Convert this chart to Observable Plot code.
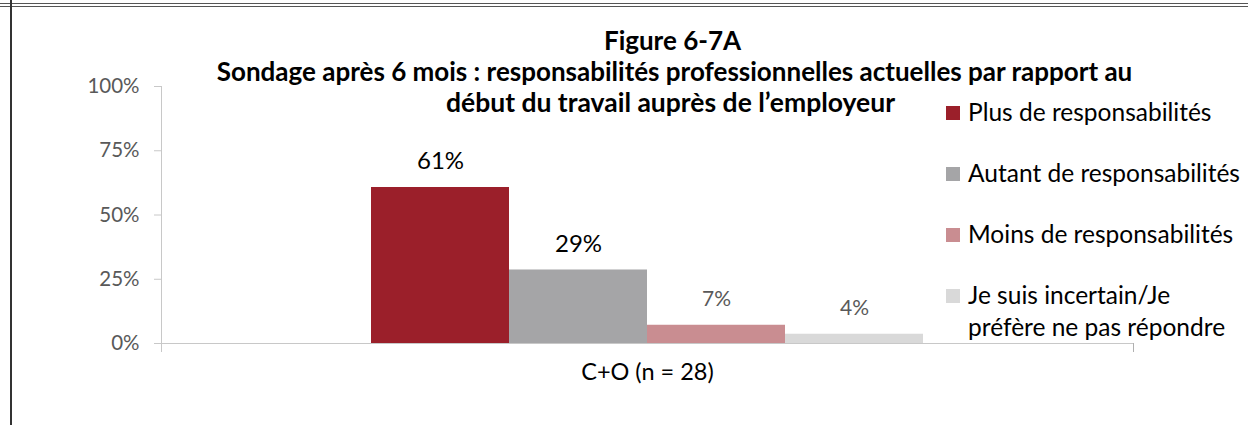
<!DOCTYPE html>
<html><head><meta charset="utf-8">
<script src="https://cdn.jsdelivr.net/npm/d3@7"></script>
<script src="https://cdn.jsdelivr.net/npm/@observablehq/plot@0.6"></script>
<style>
body{margin:0;background:#fff;}
#wrap{position:relative;width:1248px;height:425px;overflow:hidden;font-family:Lato,sans-serif;}
#topline{position:absolute;left:0;top:3px;width:1248px;border-top:4px double #555;}
#leftline{position:absolute;left:10px;top:0;width:2px;height:425px;background:#333;}
#chart{position:absolute;left:0;top:0;}
#legend{position:absolute;left:946px;top:96px;width:300px;}
#legend .lg-swatch{display:flex !important;align-items:flex-start !important;line-height:32px;padding-bottom:29px !important;margin:0 !important;font-size:24.5px;color:#000;font-family:Lato,sans-serif;}
#legend .lg-swatch, #legend .lg-swatch *{white-space:normal !important;overflow:visible !important;text-overflow:clip !important;}
#legend .lg-swatch > svg{margin-top:10px;margin-right:8px !important;flex-shrink:0;}
</style></head><body>
<div id="wrap"><div id="chart"></div><div id="topline"></div><div id="leftline"></div><div id="legend"></div></div>
<script>
const categories = ["Plus de responsabilités", "Autant de responsabilités", "Moins de responsabilités", "Je suis incertain/Je préfère ne pas répondre"];
const values = [0.607, 0.286, 0.071, 0.036];
const groupLabel = "C+O (n = 28)";
const yTicks = [0, 0.25, 0.5, 0.75, 1];
const titleLines = ["Figure 6-7A", "Sondage après 6 mois : responsabilités professionnelles actuelles par rapport au", "début du travail auprès de l’employeur"];
const palette = ["#9B1F2A", "#A5A5A7", "#C98D91", "#D9D9D9"];

const data = categories.map((c, i) => ({category: c, value: values[i]}));
const pct = d3.format(".0%");
const font = "Lato, sans-serif";

const chart = Plot.plot({
  width: 1248, height: 425,
  marginLeft: 161, marginRight: 115, marginTop: 86, marginBottom: 82,
  style: {fontFamily: font, background: "transparent", overflow: "visible"},
  x: {domain: categories, paddingInner: 0, paddingOuter: 1.5, axis: null},
  y: {domain: [0, 1], axis: null},
  color: {domain: categories, range: palette},
  marks: [
    Plot.barY(data, {x: "category", y: "value", fill: "category", inset: 0}),
    Plot.frame({anchor: "left", insetBottom: -8, stroke: "#c8c8c8"}),
    Plot.frame({anchor: "bottom", insetLeft: -7, stroke: "#c8c8c8"}),
    Plot.frame({anchor: "right", insetTop: 257, insetBottom: -8, stroke: "#b0b0b0"}),
    Plot.axisY({ticks: yTicks, tickFormat: pct, tickSize: 7, tickPadding: 15, stroke: "#c8c8c8", fill: "#595959", fontSize: 20.5, label: null}),
    Plot.text(data, {filter: d => d.value >= 0.2, x: "category", y: "value", text: d => pct(d.value), dy: -26, fontSize: 24, fill: "#000"}),
    Plot.text(data, {filter: d => d.value < 0.2, x: "category", y: "value", text: d => pct(d.value), dy: -26, fontSize: 21, fill: "#595959"}),
    Plot.text([groupLabel], {text: d => d, frameAnchor: "bottom", dy: 36, fontSize: 23.5, fill: "#000"}),
    Plot.text([titleLines[0]], {text: d => d, frameAnchor: "top", dy: -55, dx: 25, fontSize: 26, fontWeight: "bold", fill: "#000"}),
    Plot.text([titleLines[1]], {text: d => d, frameAnchor: "top", dy: -24, dx: 27, fontSize: 26, fontWeight: "bold", fill: "#000"}),
    Plot.text([titleLines[2]], {text: d => d, frameAnchor: "top", dy: 7, dx: 23, fontSize: 26.5, fontWeight: "bold", fill: "#000"})
  ]
});
document.getElementById("chart").appendChild(chart);

const legend = Plot.legend({
  color: {domain: categories, range: palette},
  swatchSize: 14, columns: 1, className: "lg"
});
document.getElementById("legend").appendChild(legend);
</script>
</body></html>
